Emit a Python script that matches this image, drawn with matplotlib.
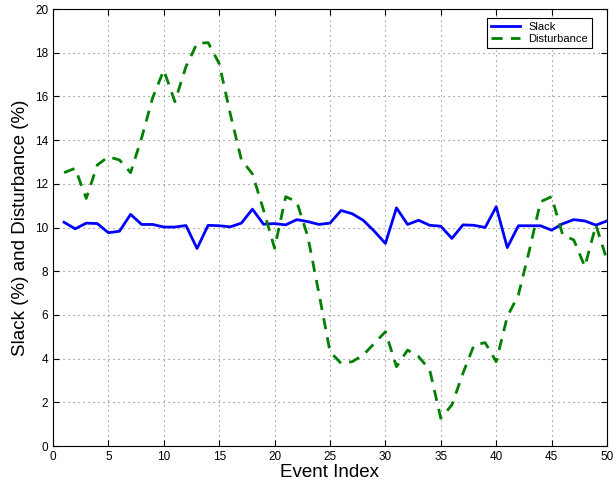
import matplotlib
matplotlib.use('Agg')
import matplotlib.pyplot as plt
import numpy as np

plt.rcParams['font.family'] = ['Liberation Sans', 'DejaVu Sans']

event_index = np.arange(1, 51)

slack = [10.24, 9.94, 10.20, 10.18, 9.76, 9.83, 10.60, 10.14, 10.14, 10.02,
         10.02, 10.09, 9.04, 10.10, 10.08, 10.03, 10.20, 10.84, 10.15, 10.18,
         10.12, 10.36, 10.27, 10.14, 10.20, 10.78, 10.63, 10.33, 9.83, 9.27,
         10.90, 10.14, 10.33, 10.10, 10.06, 9.50, 10.12, 10.10, 10.00, 10.95,
         9.08, 10.08, 10.08, 10.08, 9.88, 10.17, 10.36, 10.30, 10.11, 10.30]

disturbance = [12.51, 12.71, 11.33, 12.86, 13.24, 13.09, 12.51, 14.10, 15.95, 17.20,
               15.76, 17.36, 18.43, 18.46, 17.50, 15.20, 13.10, 12.45, 10.80, 9.05,
               11.41, 11.18, 9.58, 6.99, 4.32, 3.78, 3.86, 4.16, 4.70, 5.23,
               3.63, 4.39, 4.09, 3.48, 1.27, 1.88, 3.33, 4.62, 4.73, 3.86,
               5.92, 6.91, 8.97, 11.18, 11.41, 9.66, 9.43, 8.21, 10.11, 8.51]

fig = plt.figure(figsize=(6.13, 4.86), dpi=100)
ax = fig.add_axes([53 / 613, 1 - 446 / 486, (607 - 53) / 613, (446 - 9) / 486])

ax.plot(event_index, slack, color='#0000ff', linewidth=2.0, label='Slack')
ax.plot(event_index, disturbance, color='#008000', linewidth=2.0,
        linestyle=(0, (4, 3)), label='Disturbance')

ax.set_xlim(0, 50)
ax.set_ylim(0, 20)
ax.set_xticks(np.arange(0, 51, 5))
ax.set_yticks(np.arange(0, 21, 2))
ax.tick_params(direction='in', top=True, right=True, labelsize=8.5, length=4)
ax.grid(True, linestyle=(0, (1, 3.5)), color='#777777', linewidth=0.8)

ax.set_xlabel('Event Index', fontsize=13.5, labelpad=1)
ax.set_ylabel('Slack (%) and Disturbance (%)', fontsize=13.5, labelpad=4)

# legend box sits a little in from the top right corner
leg = ax.legend(loc='upper right', bbox_to_anchor=(0.973, 0.979), fontsize=8,
                fancybox=False, framealpha=1, edgecolor='black', borderpad=0.35,
                handlelength=2.6, labelspacing=0.15, borderaxespad=0)
leg.get_frame().set_linewidth(0.8)

plt.savefig('out.png', dpi=100)
